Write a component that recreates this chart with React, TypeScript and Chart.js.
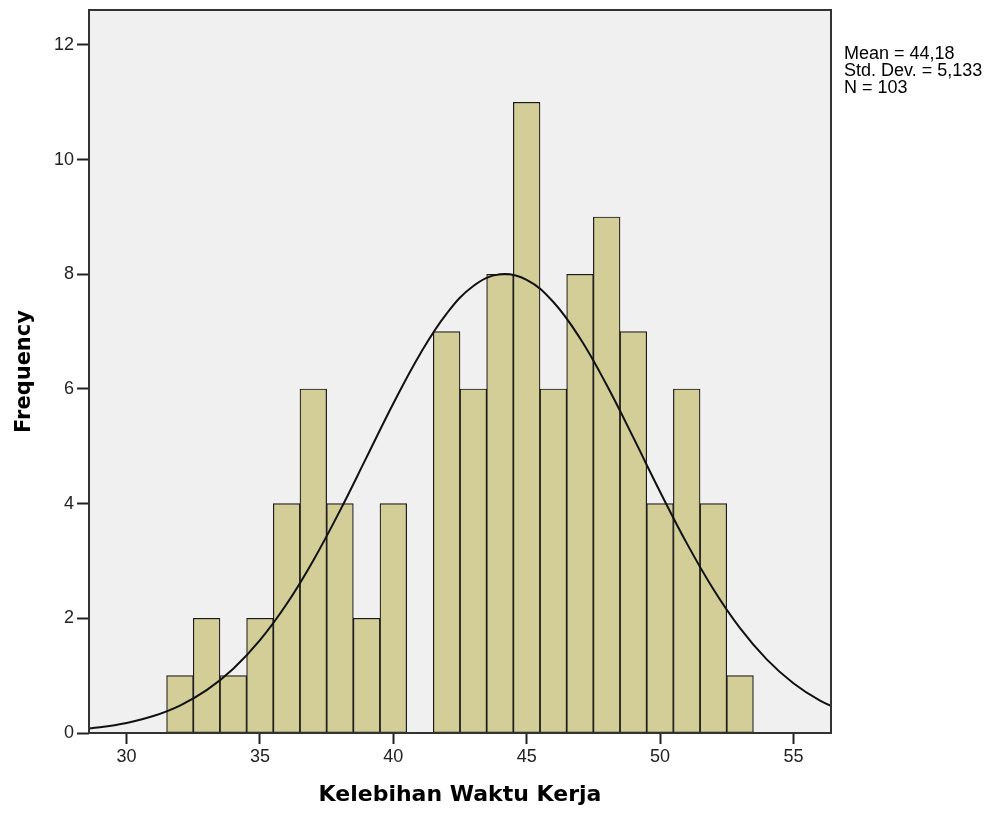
import React, { useEffect, useRef } from "react";
import { Chart, registerables } from "chart.js";

Chart.register(...registerables);

// Histogram bins (bin centres, width 1)
const binCenters = [32, 33, 34, 35, 36, 37, 38, 39, 40, 41, 42, 43, 44, 45, 46, 47, 48, 49, 50, 51, 52, 53];
const frequencies = [1, 2, 1, 2, 4, 6, 4, 2, 4, 0, 7, 6, 8, 11, 6, 8, 9, 7, 4, 6, 4, 1];

// Normal curve
const curveX = [28, 29, 30, 31, 32, 33, 34, 35, 36, 37, 38, 39, 40, 41, 42, 43, 44, 45, 46, 47, 48, 49, 50, 51, 52, 53, 54, 55, 56, 57];
const curveY = [0.056, 0.101, 0.176, 0.296, 0.479, 0.747, 1.12, 1.618, 2.249, 3.01, 3.878, 4.811, 5.746, 6.607, 7.315, 7.796, 8.0, 7.904, 7.517, 6.884, 6.069, 5.151, 4.209, 3.312, 2.508, 1.829, 1.284, 0.868, 0.565, 0.354];

const statsLines = ["Mean = 44,18", "Std. Dev. = 5,133", "N = 103"];
const xTitle = "Kelebihan Waktu Kerja";
const yTitle = "Frequency";

const X_MIN = 28.59;
const X_MAX = 56.41;
const Y_MIN = 0;
const Y_MAX = 12.61;

export default function App() {
  const ref = useRef<HTMLCanvasElement | null>(null);

  useEffect(() => {
    document.body.style.margin = "0";
    const canvas = ref.current;
    if (!canvas) return;

    const framePlugin = {
      id: "frame",
      beforeDatasetsDraw(chart: any) {
        const { ctx, chartArea: a } = chart;
        ctx.save();
        ctx.fillStyle = "#F0F0F0";
        ctx.fillRect(a.left, a.top, a.right - a.left, a.bottom - a.top);
        ctx.restore();
      },
      afterDatasetsDraw(chart: any) {
        const { ctx, chartArea: a } = chart;
        ctx.save();
        ctx.strokeStyle = "#333333";
        ctx.lineWidth = 2;
        ctx.strokeRect(a.left, a.top, a.right - a.left, a.bottom - a.top);
        ctx.restore();
      },
      afterDraw(chart: any) {
        const { ctx, chartArea: a } = chart;
        ctx.save();
        ctx.fillStyle = "#000";
        ctx.font = "18px 'Liberation Sans', Arial, sans-serif";
        ctx.textAlign = "left";
        ctx.textBaseline = "alphabetic";
        statsLines.forEach((t, i) => {
          ctx.fillText(t, a.right + 13, 59 + i * 17);
        });
        ctx.restore();
      },
    };

    const chart = new Chart(canvas, {
      type: "bar",
      data: {
        datasets: [
          {
            type: "line",
            data: curveX.map((x, i) => ({ x, y: curveY[i] })),
            borderColor: "#111111",
            borderWidth: 2,
            pointRadius: 0,
            tension: 0.4,
            fill: false,
            order: 0,
          } as any,
          {
            type: "bar",
            data: binCenters.map((x, i) => ({ x, y: frequencies[i] })),
            backgroundColor: "#D3CE97",
            borderColor: "#1a1a1a",
            borderWidth: 1.2,
            barPercentage: 1,
            categoryPercentage: 1,
            borderSkipped: false,
            order: 1,
          } as any,
        ],
      },
      plugins: [framePlugin],
      options: {
        responsive: false,
        animation: false,
        events: [],
        layout: { padding: { left: 0, top: 10, right: 169, bottom: 0 } },
        plugins: {
          legend: { display: false },
          tooltip: { enabled: false },
        },
        scales: {
          x: {
            type: "linear",
            min: X_MIN,
            max: X_MAX,
            offset: false,
            border: { display: false },
            grid: {
              offset: false,
              drawOnChartArea: false,
              drawTicks: true,
              tickLength: 11,
              tickColor: "#222",
              tickWidth: 2,
            },
            ticks: {
              stepSize: 5,
              includeBounds: false,
              color: "#222",
              padding: 2,
              maxRotation: 0,
              font: { family: "'Liberation Sans', Arial, sans-serif", size: 18 },
            },
            title: {
              display: true,
              text: xTitle,
              color: "#000",
              padding: { top: 0, bottom: 6 },
              font: { family: "'DejaVu Sans', Verdana, sans-serif", size: 22, weight: "bold" },
            },
            afterFit(scale: any) {
              scale.height = 81;
              scale.paddingLeft = 0;
              scale.paddingRight = 0;
            },
          },
          y: {
            type: "linear",
            min: Y_MIN,
            max: Y_MAX,
            border: { display: false },
            grid: {
              drawOnChartArea: false,
              drawTicks: true,
              tickLength: 12,
              tickColor: "#222",
              tickWidth: 2,
            },
            ticks: {
              stepSize: 2,
              includeBounds: false,
              color: "#222",
              padding: 3,
              font: { family: "'Liberation Sans', Arial, sans-serif", size: 18 },
            },
            title: {
              display: true,
              text: yTitle,
              color: "#000",
              padding: { top: 12, bottom: 0 },
              font: { family: "'DejaVu Sans', Verdana, sans-serif", size: 21, weight: "bold" },
            },
            afterFit(scale: any) {
              scale.width = 89;
              scale.paddingTop = 0;
              scale.paddingBottom = 0;
            },
          },
        },
      } as any,
    });

    return () => {
      chart.destroy();
    };
  }, []);

  return (
    <div style={{ position: "absolute", left: 0, top: 0, width: 1000, height: 814 }}>
      <canvas ref={ref} width={1000} height={814} style={{ display: "block" }} />
    </div>
  );
}
